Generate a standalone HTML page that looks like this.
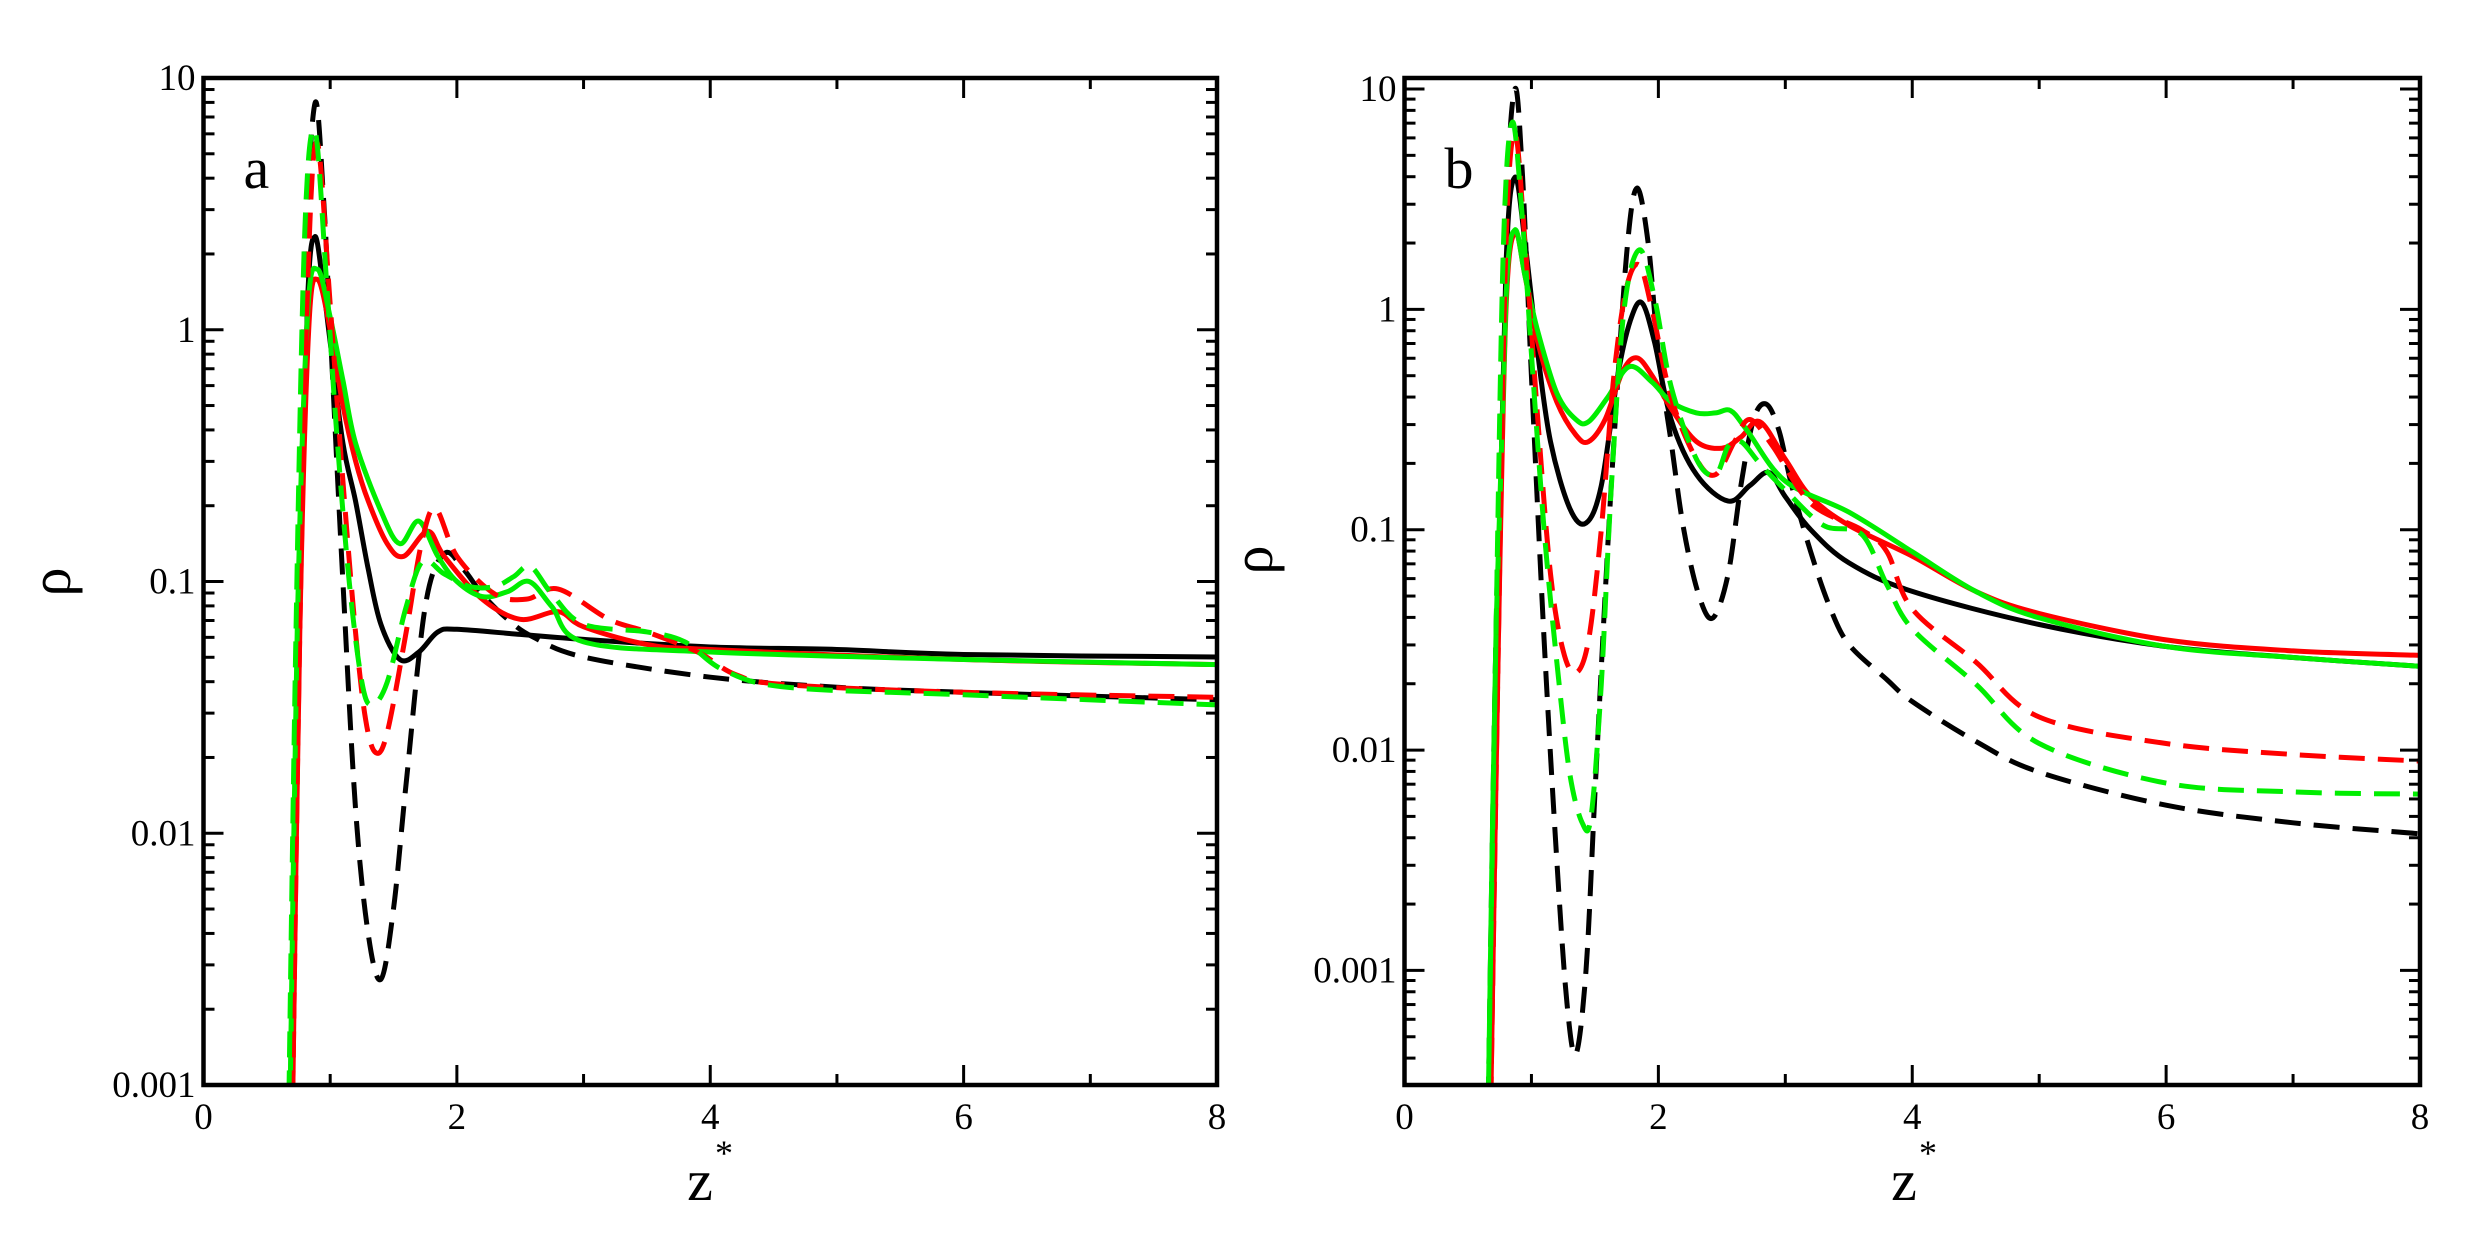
<!DOCTYPE html>
<html><head><meta charset="utf-8"><style>
html,body{margin:0;padding:0;background:#fff;}
svg{display:block;}
text{font-family:"Liberation Serif",serif;fill:#000;}
</style></head><body>
<svg id="s" width="2479" height="1248" xmlns="http://www.w3.org/2000/svg"></svg>
<script>
const S=document.getElementById('s');
const NS='http://www.w3.org/2000/svg';
function el(t,a,txt){const e=document.createElementNS(NS,t);for(const k in a)e.setAttribute(k,a[k]);if(txt!==undefined)e.textContent=txt;S.appendChild(e);return e;}
const panels=[
 {x0:203.5,x1:1217,y0:78,y1:1085,lt:1,lb:-3,labels:[[1,'10'],[0,'1'],[-1,'0.1'],[-2,'0.01'],[-3,'0.001']],letter:'a',rho:[70,582],zx:700},
 {x0:1404.5,x1:2420,y0:78,y1:1085,lt:1.05,lb:-3.52,labels:[[1,'10'],[0,'1'],[-1,'0.1'],[-2,'0.01'],[-3,'0.001']],letter:'b',rho:[1272,560],zx:1904}
];
const data=[
{p:0,c:'#000',d:false,pts:[[0.68,-3.2],[0.75,-1.2],[0.82,0.1],[0.88,0.37],[0.95,0.15],[1.0,-0.05],[1.1,-0.45],[1.2,-0.68],[1.3,-0.95],[1.4,-1.17],[1.55,-1.31],[1.7,-1.28],[1.85,-1.2],[2.0,-1.19],[2.5,-1.21],[3,-1.23],[4,-1.26],[5,-1.27],[6,-1.29],[8,-1.3]]},
{p:0,c:'#000',d:true,pts:[[0.68,-3.2],[0.74,-1.5],[0.8,0.2],[0.88,0.9],[0.95,0.5],[1.0,0.0],[1.1,-1.0],[1.2,-1.9],[1.3,-2.4],[1.4,-2.58],[1.5,-2.3],[1.6,-1.8],[1.75,-1.1],[1.9,-0.89],[2.05,-0.95],[2.2,-1.05],[2.4,-1.15],[2.6,-1.22],[3,-1.3],[4,-1.38],[5,-1.42],[6,-1.44],[8,-1.47]]},
{p:0,c:'#f00',d:false,pts:[[0.7,-3.2],[0.76,-1.2],[0.83,0.0],[0.9,0.2],[1.0,0.0],[1.1,-0.3],[1.2,-0.52],[1.3,-0.68],[1.45,-0.85],[1.58,-0.9],[1.77,-0.8],[1.9,-0.9],[2.2,-1.07],[2.5,-1.15],[2.8,-1.12],[3,-1.18],[3.5,-1.25],[4,-1.27],[6,-1.31],[8,-1.33]]},
{p:0,c:'#0e0',d:false,pts:[[0.68,-3.2],[0.74,-1.2],[0.82,0.05],[0.9,0.24],[1.0,0.05],[1.1,-0.2],[1.2,-0.45],[1.4,-0.72],[1.55,-0.85],[1.7,-0.76],[1.85,-0.9],[2.0,-1.0],[2.2,-1.06],[2.4,-1.04],[2.57,-1.0],[2.75,-1.1],[3,-1.24],[4,-1.28],[6,-1.31],[8,-1.33]]},
{p:0,c:'#f00',d:true,pts:[[0.7,-3.2],[0.76,-1.2],[0.83,0.3],[0.9,0.74],[1.0,0.1],[1.1,-0.6],[1.2,-1.2],[1.28,-1.55],[1.36,-1.68],[1.45,-1.6],[1.6,-1.2],[1.72,-0.85],[1.83,-0.71],[2.0,-0.9],[2.3,-1.05],[2.55,-1.07],[2.8,-1.03],[3.2,-1.15],[3.5,-1.2],[3.9,-1.28],[4.2,-1.37],[4.6,-1.41],[6,-1.44],[8,-1.46]]},
{p:0,c:'#0e0',d:true,pts:[[0.67,-3.2],[0.73,-1.2],[0.8,0.4],[0.88,0.79],[0.97,0.2],[1.05,-0.4],[1.15,-1.0],[1.25,-1.4],[1.33,-1.49],[1.45,-1.4],[1.6,-1.1],[1.73,-0.92],[1.9,-0.97],[2.1,-1.02],[2.3,-1.02],[2.45,-0.98],[2.58,-0.94],[2.75,-1.05],[3,-1.17],[3.5,-1.2],[3.8,-1.24],[4.1,-1.35],[4.6,-1.42],[6,-1.45],[8,-1.49]]},
{p:1,c:'#000',d:true,pts:[[0.66,-3.6],[0.72,-1.5],[0.8,0.4],[0.87,1.0],[0.93,0.6],[1.0,-0.3],[1.1,-1.5],[1.2,-2.5],[1.28,-3.15],[1.35,-3.38],[1.43,-3.0],[1.5,-2.2],[1.58,-1.3],[1.65,-0.6],[1.75,0.25],[1.83,0.55],[1.92,0.3],[2.0,-0.2],[2.1,-0.6],[2.2,-1.0],[2.32,-1.3],[2.43,-1.4],[2.55,-1.2],[2.65,-0.8],[2.75,-0.5],[2.85,-0.43],[2.95,-0.55],[3.05,-0.8],[3.2,-1.1],[3.35,-1.35],[3.5,-1.52],[3.8,-1.68],[4.0,-1.78],[4.5,-1.96],[5,-2.1],[6,-2.25],[7,-2.33],[8,-2.38]]},
{p:1,c:'#000',d:false,pts:[[0.67,-3.6],[0.73,-1.5],[0.8,0.2],[0.87,0.6],[0.95,0.3],[1.05,-0.2],[1.15,-0.6],[1.3,-0.9],[1.43,-0.97],[1.55,-0.8],[1.68,-0.3],[1.78,-0.05],[1.87,0.03],[1.97,-0.15],[2.1,-0.5],[2.3,-0.75],[2.55,-0.87],[2.72,-0.8],[2.87,-0.74],[3.0,-0.85],[3.2,-1.0],[3.5,-1.15],[4,-1.28],[5,-1.43],[6,-1.53],[7,-1.58],[8,-1.62]]},
{p:1,c:'#f00',d:false,pts:[[0.68,-3.6],[0.74,-1.5],[0.8,0.0],[0.87,0.35],[0.95,0.15],[1.05,-0.15],[1.2,-0.42],[1.35,-0.57],[1.45,-0.6],[1.58,-0.5],[1.72,-0.28],[1.83,-0.22],[1.95,-0.3],[2.1,-0.45],[2.3,-0.6],[2.5,-0.63],[2.65,-0.58],[2.8,-0.51],[3.0,-0.68],[3.2,-0.85],[3.5,-0.98],[4,-1.12],[4.5,-1.28],[5,-1.38],[6,-1.5],[7,-1.55],[8,-1.57]]},
{p:1,c:'#0e0',d:false,pts:[[0.66,-3.6],[0.72,-1.5],[0.8,0.05],[0.87,0.36],[0.95,0.15],[1.05,-0.1],[1.2,-0.38],[1.35,-0.5],[1.45,-0.51],[1.6,-0.4],[1.77,-0.26],[1.95,-0.33],[2.1,-0.42],[2.3,-0.47],[2.45,-0.47],[2.57,-0.46],[2.7,-0.55],[3.0,-0.78],[3.5,-0.92],[4,-1.1],[4.5,-1.28],[5,-1.4],[6,-1.53],[7,-1.58],[8,-1.62]]},
{p:1,c:'#f00',d:true,pts:[[0.68,-3.6],[0.74,-1.5],[0.8,0.3],[0.87,0.8],[0.95,0.3],[1.05,-0.5],[1.15,-1.2],[1.25,-1.55],[1.35,-1.65],[1.45,-1.5],[1.55,-1.0],[1.65,-0.3],[1.75,0.1],[1.85,0.2],[1.95,0.0],[2.1,-0.4],[2.3,-0.68],[2.45,-0.75],[2.6,-0.6],[2.72,-0.5],[2.9,-0.62],[3.2,-0.88],[3.6,-1.0],[3.8,-1.1],[4.0,-1.36],[4.5,-1.6],[5,-1.85],[6,-1.97],[7,-2.02],[8,-2.05]]},
{p:1,c:'#0e0',d:true,pts:[[0.66,-3.6],[0.72,-1.5],[0.78,0.3],[0.85,0.85],[0.93,0.4],[1.0,-0.2],[1.1,-1.0],[1.2,-1.6],[1.3,-2.1],[1.4,-2.33],[1.47,-2.3],[1.55,-1.7],[1.63,-0.8],[1.73,0.0],[1.85,0.27],[1.97,0.05],[2.1,-0.35],[2.3,-0.68],[2.45,-0.75],[2.55,-0.62],[2.65,-0.6],[2.8,-0.7],[3.0,-0.82],[3.3,-0.98],[3.6,-1.02],[3.8,-1.25],[4.0,-1.45],[4.5,-1.7],[5,-1.97],[6,-2.15],[7,-2.19],[8,-2.2]]}
];
function X(P,z){return P.x0+(P.x1-P.x0)*z/8;}
function Y(P,l){return P.y0+(P.y1-P.y0)*(P.lt-l)/(P.lt-P.lb);}
panels.forEach((P,i)=>{const cp=el('clipPath',{id:'c'+i});const r=document.createElementNS(NS,'rect');r.setAttribute('x',P.x0);r.setAttribute('y',P.y0);r.setAttribute('width',P.x1-P.x0);r.setAttribute('height',P.y1-P.y0);cp.appendChild(r);});
data.forEach(s=>{
 const P=panels[s.p];const p=s.pts.map(q=>[X(P,q[0]),Y(P,q[1])]);
 let d='M'+p[0][0].toFixed(1)+','+p[0][1].toFixed(1);
 for(let i=0;i<p.length-1;i++){const a=p[Math.max(0,i-1)],b=p[i],c=p[i+1],e=p[Math.min(p.length-1,i+2)];
  const c1=[b[0]+(c[0]-a[0])/6,b[1]+(c[1]-a[1])/6],c2=[c[0]-(e[0]-b[0])/6,c[1]-(e[1]-b[1])/6];
  d+=' C'+c1.map(v=>v.toFixed(1))+' '+c2.map(v=>v.toFixed(1))+' '+c[0].toFixed(1)+','+c[1].toFixed(1);}
 const a={d:d,fill:'none',stroke:s.c,'stroke-width':5,'clip-path':'url(#c'+s.p+')','stroke-linejoin':'round'};
 if(s.d)a['stroke-dasharray']='26,13';
 el('path',a);
});
panels.forEach(P=>{
 el('rect',{x:P.x0,y:P.y0,width:P.x1-P.x0,height:P.y1-P.y0,fill:'none',stroke:'#000','stroke-width':4.5});
 for(let z=0;z<=8;z++){const x=X(P,z),L=z%2?11:20;
  el('line',{x1:x,x2:x,y1:P.y1,y2:P.y1-L,stroke:'#000','stroke-width':3});
  el('line',{x1:x,x2:x,y1:P.y0,y2:P.y0+L,stroke:'#000','stroke-width':3});
  if(z%2==0)el('text',{x:x,y:P.y1+44,'font-size':37,'text-anchor':'middle'},String(z));}
 for(let dd=-4;dd<=1;dd++)for(let m=1;m<10;m++){const l=dd+Math.log10(m);if(l>P.lt+1e-6||l<P.lb-1e-6)continue;const y=Y(P,l),L=m==1?20:11;
  el('line',{x1:P.x0,x2:P.x0+L,y1:y,y2:y,stroke:'#000','stroke-width':3});
  el('line',{x1:P.x1,x2:P.x1-L,y1:y,y2:y,stroke:'#000','stroke-width':3});}
 P.labels.forEach(([l,t])=>{el('text',{x:P.x0-8,y:Y(P,l)+12,'font-size':37,'text-anchor':'end'},t);});
 el('text',{x:P.x0+40,y:Y(P,P.lt)+110,'font-size':58},P.letter);
 el('text',{x:P.rho[0],y:P.rho[1],'font-size':58,'text-anchor':'middle',transform:'rotate(-90 '+P.rho[0]+' '+P.rho[1]+')'},'ρ');
 el('text',{x:P.zx,y:1200,'font-size':58,'text-anchor':'middle'},'z');
 el('text',{x:P.zx+24,y:1165,'font-size':36,'text-anchor':'middle'},'*');
});
</script>
</body></html>
